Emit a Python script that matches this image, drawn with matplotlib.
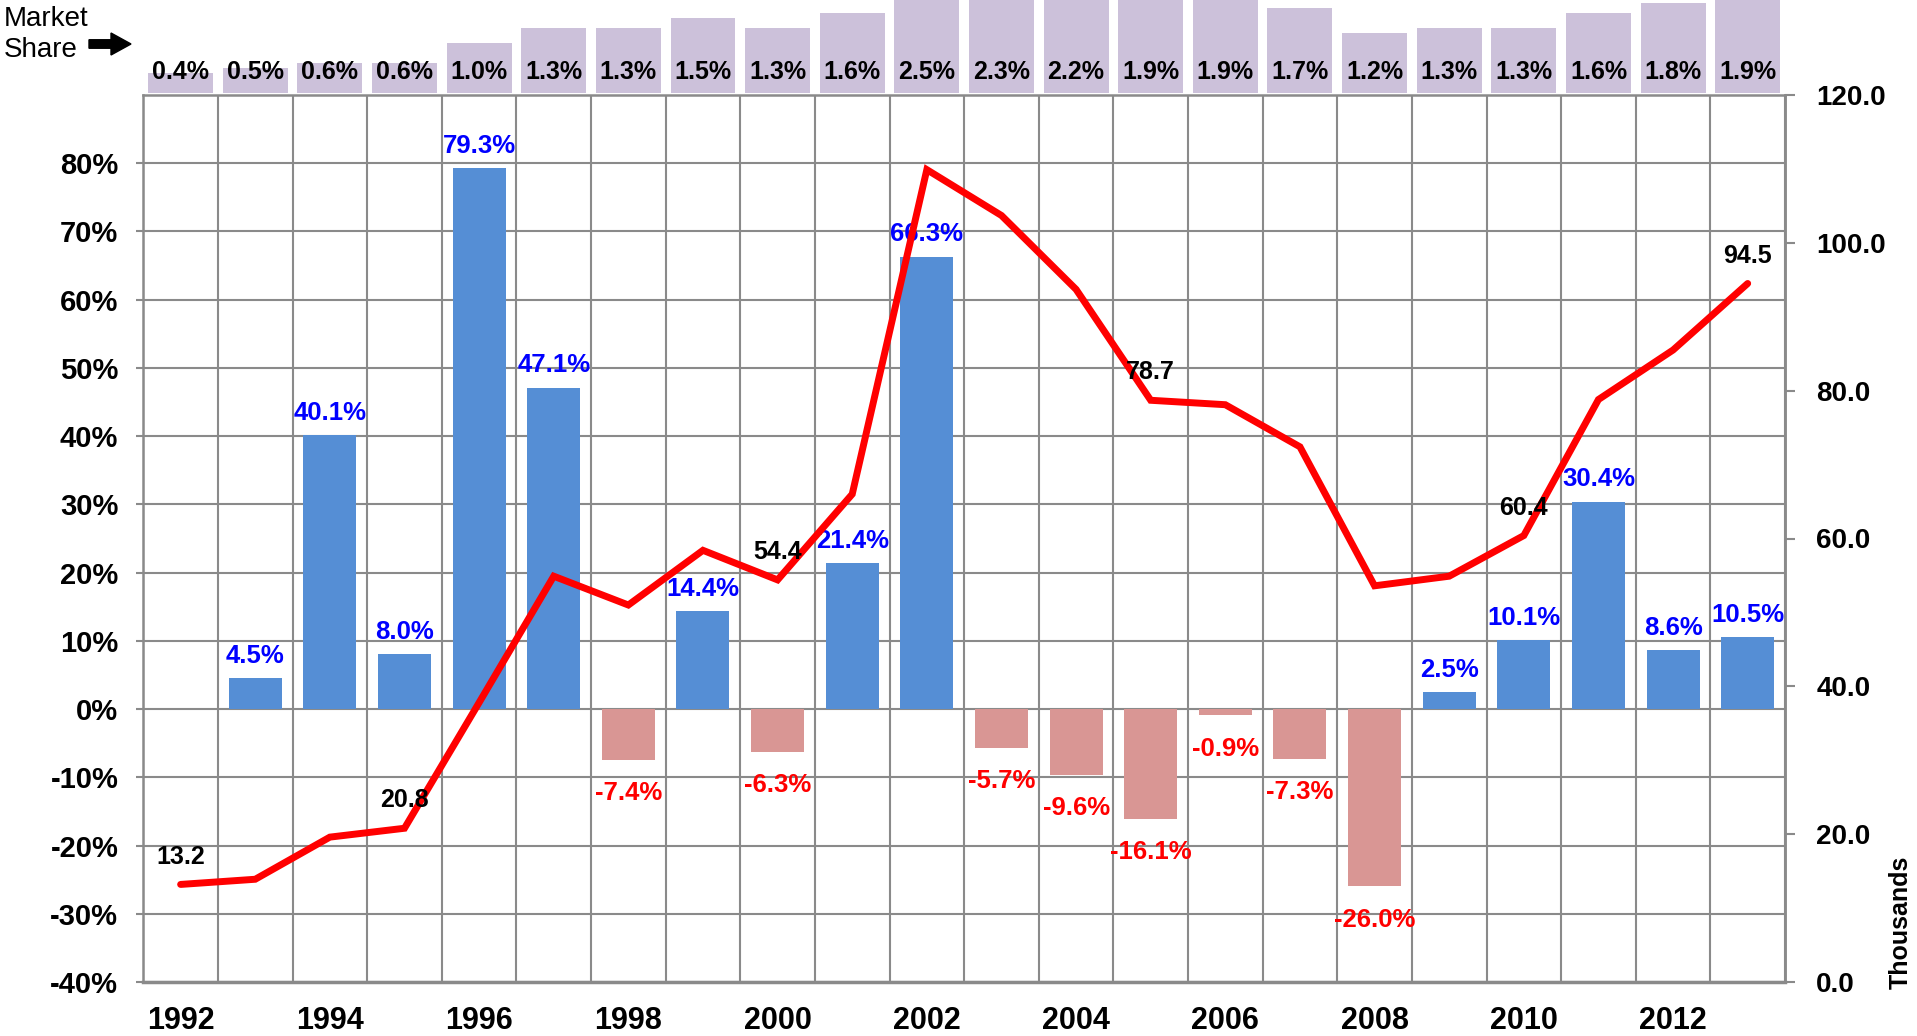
import matplotlib
matplotlib.use('Agg')
import matplotlib.pyplot as plt
import numpy as np
from matplotlib.patches import FancyArrow

# ---------------- data ----------------
years = list(range(1992, 2014))
market_share = [0.4, 0.5, 0.6, 0.6, 1.0, 1.3, 1.3, 1.5, 1.3, 1.6, 2.5,
                2.3, 2.2, 1.9, 1.9, 1.7, 1.2, 1.3, 1.3, 1.6, 1.8, 1.9]
growth_pct = [np.nan, 4.5, 40.1, 8.0, 79.3, 47.1, -7.4, 14.4, -6.3, 21.4, 66.3,
              -5.7, -9.6, -16.1, -0.9, -7.3, -26.0, 2.5, 10.1, 30.4, 8.6, 10.5]
units_thousands = [13.2, 13.9, 19.6, 20.8, 37.8, 54.9, 51.0, 58.4, 54.4, 66.0, 109.9,
                   103.7, 93.7, 78.7, 78.1, 72.4, 53.6, 54.9, 60.4, 78.8, 85.5, 94.5]
labeled_years = [1992, 1995, 2000, 2005, 2010, 2013]
xtick_years = list(range(1992, 2014, 2))
left_ticks = list(range(-40, 81, 10))
right_ticks = list(range(0, 121, 20))

# ---------------- style ----------------
BLUE = '#558ED5'
PINK = '#D99694'
LAV = '#CCC1DA'
GRID = '#8A8A8A'

plt.rcParams['font.family'] = ['Liberation Sans', 'DejaVu Sans']
plt.rcParams['font.weight'] = 'bold'

W, H = 1917, 1036
fig = plt.figure(figsize=(W / 100, H / 100), dpi=100)
ax = fig.add_axes([143.3 / W, 1 - 982 / H, (1785 - 143.3) / W, (982 - 95) / H])
axs = fig.add_axes([143.3 / W, 1 - 93 / H, (1785 - 143.3) / W, 93 / H])
ax2 = ax.twinx()

x = np.arange(len(years))
g = np.array(growth_pct, dtype=float)

# grid & axes
ax.set_xlim(-0.5, len(years) - 0.5)
ax.set_ylim(-40, 90)
ax2.set_ylim(0, 120)
ax.set_axisbelow(True)
ax.set_xticks(np.arange(-0.5, len(years), 1), minor=True)
ax.set_xticks([years.index(y) for y in xtick_years])
ax.set_xticklabels([str(y) for y in xtick_years])
ax.set_yticks(left_ticks)
ax.set_yticklabels([f'{v}%' for v in left_ticks])
ax.grid(which='minor', axis='x', color=GRID, lw=1.5)
ax.grid(which='major', axis='y', color=GRID, lw=1.5)
ax.grid(which='major', axis='x', visible=False)
ax.tick_params(axis='x', which='both', length=0, pad=17, labelsize=22)
ax.tick_params(axis='y', length=5, width=1.5, color=GRID, pad=13, labelsize=21)
for s in ['left', 'right', 'top']:
    ax.spines[s].set_color(GRID)
    ax.spines[s].set_linewidth(1.8)
ax.spines['bottom'].set_color(GRID)
ax.spines['bottom'].set_linewidth(2.5)

ax2.set_yticks(right_ticks)
ax2.set_yticklabels([f'{v:.1f}' for v in right_ticks])
ax2.tick_params(axis='y', length=7.5, width=1.5, color=GRID, pad=15, labelsize=20)
for s in ['left', 'top', 'bottom']:
    ax2.spines[s].set_visible(False)
ax2.spines['right'].set_color(GRID)
ax2.spines['right'].set_linewidth(1.8)

# growth bars
mask = ~np.isnan(g)
colors = [BLUE if v >= 0 else PINK for v in g[mask]]
ax.bar(x[mask], g[mask], width=0.71, color=colors, zorder=2)
for xi, v in zip(x[mask], g[mask]):
    if v >= 0:
        ax.annotate(f'{v:.1f}%', (xi, v), xytext=(0, 16), textcoords='offset points',
                    ha='center', va='center', color='#0000FF', fontsize=18.5, zorder=3)
    else:
        ax.annotate(f'{v:.1f}%', (xi, v), xytext=(0, -24), textcoords='offset points',
                    ha='center', va='center', color='#FF0000', fontsize=18.5, zorder=3)

# units line
ax2.plot(x, units_thousands, color='#FF0000', lw=5, solid_capstyle='round',
         solid_joinstyle='miter', zorder=3)
for yr in labeled_years:
    i = years.index(yr)
    ax2.annotate(f'{units_thousands[i]:.1f}', (i, units_thousands[i]), xytext=(0, 20),
                 textcoords='offset points', ha='center', va='center',
                 color='black', fontsize=18, zorder=5)

# market share strip
axs.set_xlim(-0.5, len(years) - 0.5)
axs.set_ylim(0, 1.86)
axs.bar(x, market_share, width=0.87, color=LAV)
axs.axis('off')
for xi, s in zip(x, market_share):
    axs.text(xi, 0.226, f'{s:.1f}%', transform=axs.get_xaxis_transform(),
             ha='center', va='center', fontsize=18, color='black')

# annotations
fig.text(3.7 / W, 1 - 19 / H, 'Market', fontsize=20, fontweight='normal', ha='left', va='center')
fig.text(3.7 / W, 1 - 50 / H, 'Share', fontsize=20, fontweight='normal', ha='left', va='center')
arrow = FancyArrow(0.89, (H - 44) / 100, 0.42, 0, width=0.085, head_width=0.22,
                   head_length=0.2, length_includes_head=True, color='black',
                   transform=fig.dpi_scale_trans)
fig.add_artist(arrow)
fig.text(1901 / W, 1 - 922.5 / H, 'Thousands', rotation=90, ha='center', va='center',
         fontsize=18, fontweight='bold')

fig.savefig('out.png', dpi=100)
